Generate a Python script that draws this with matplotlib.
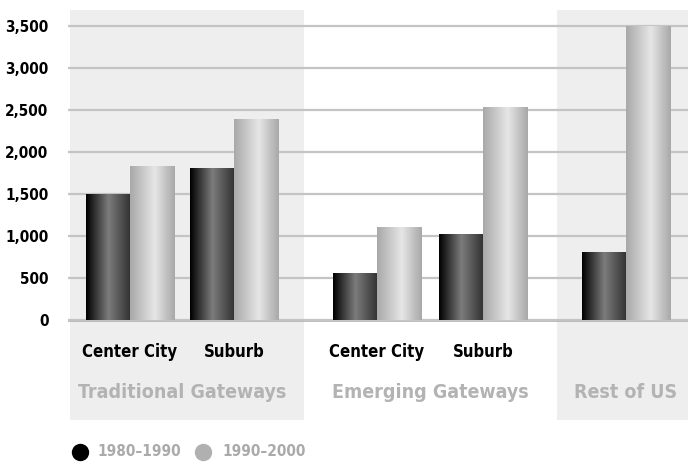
import numpy as np
import matplotlib
matplotlib.use("Agg")
import matplotlib.pyplot as plt
from matplotlib import font_manager
from matplotlib.colors import LinearSegmentedColormap
from matplotlib.lines import Line2D

# --- data -------------------------------------------------------------
subgroups = ["Center City", "Suburb", "Center City", "Suburb", ""]
groups = ["Traditional Gateways", "Emerging Gateways", "Rest of US"]
series_names = ["1980\u20131990", "1990\u20132000"]
growth_1980_1990 = [1500, 1810, 560, 1020, 810]
growth_1990_2000 = [1830, 2390, 1110, 2535, 3500]
y_ticks = [0, 500, 1000, 1500, 2000, 2500, 3000, 3500]

# --- layout (x in pixel-like units along the axis) --------------------
centers = [130, 234, 377, 483, 626]
group_centers = [182, 430, 626]
bar_w = 44.5
shade_spans = [(70, 304), (557, 690)]

# condensed bold face
names = {f.name for f in font_manager.fontManager.ttflist}
if "Liberation Sans Narrow" in names:
    FONT = dict(family="Liberation Sans Narrow", weight="bold")
else:
    FONT = dict(family="DejaVu Sans", stretch="condensed", weight="bold")

fig = plt.figure(figsize=(6.88, 4.66), dpi=100)
W, H = 688, 466
ax = fig.add_axes([68 / W, (H - 420) / H, (W - 68) / W, 410 / H])

ppu = 294 / 3500.0
ymin = -(420 - 320) / ppu
ymax = 3500 + (26 - 10) / ppu
ax.set_xlim(68, 688)
ax.set_ylim(ymin, ymax)

for a, b in shade_spans:
    ax.axvspan(a, b, color="#eeeeee", zorder=0, lw=0)

ax.set_yticks(y_ticks)
ax.set_yticklabels([f"{v:,}" for v in y_ticks], fontsize=11, **FONT)
ax.tick_params(axis="y", length=0, pad=14)
ax.set_xticks([])
ax.grid(axis="y", color="#c4c4c4", lw=1.6, zorder=1)
ax.axhline(0, color="#aaaaaa", lw=1.8, zorder=1)
for s in ax.spines.values():
    s.set_visible(False)

dark_cmap = LinearSegmentedColormap.from_list(
    "dark", [(0, "#000000"), (0.5, "#7c7c7c"), (1, "#303030")])
light_cmap = LinearSegmentedColormap.from_list(
    "light", [(0, "#a8a8a8"), (0.55, "#e6e6e6"), (1, "#a8a8a8")])
grad = np.linspace(0, 1, 256).reshape(1, -1)


def gradient_bars(xs, vals, cmap):
    bars = ax.bar(xs, vals, width=bar_w, color="none", lw=0, zorder=3)
    for r in bars:
        x0, y0 = r.get_x(), r.get_y()
        im = ax.imshow(grad, cmap=cmap, aspect="auto", zorder=3,
                       extent=[x0, x0 + r.get_width(), y0, y0 + r.get_height()],
                       interpolation="bilinear")
        im.set_clip_path(r)
    return bars


x = np.array(centers, dtype=float)
gradient_bars(x - bar_w / 2, growth_1980_1990, dark_cmap)
gradient_bars(x + bar_w / 2, growth_1990_2000, light_cmap)
ax.set_xlim(68, 688)
ax.set_ylim(ymin, ymax)

y_sub = -(352 - 320) / ppu
y_grp = -(393 - 320) / ppu
for c, lab in zip(centers, subgroups):
    if lab:
        ax.text(c, y_sub, lab, ha="center", va="center", fontsize=12,
                color="black", **FONT)
for c, lab in zip(group_centers, groups):
    ax.text(c, y_grp, lab, ha="center", va="center", fontsize=14,
            color="#b3b3b3", **FONT)

# legend
for cx, tx, col, name in [(80, 97, "#000000", series_names[0]),
                          (203, 222, "#b0b0b0", series_names[1])]:
    fig.add_artist(Line2D([cx / W], [(H - 452) / H], marker="o",
                          markersize=11.5, color=col, lw=0,
                          transform=fig.transFigure))
    fig.text(tx / W, (H - 452) / H, name, ha="left", va="center",
             fontsize=11, color="#aaaaaa", **FONT)

fig.savefig("out.png", dpi=100)
